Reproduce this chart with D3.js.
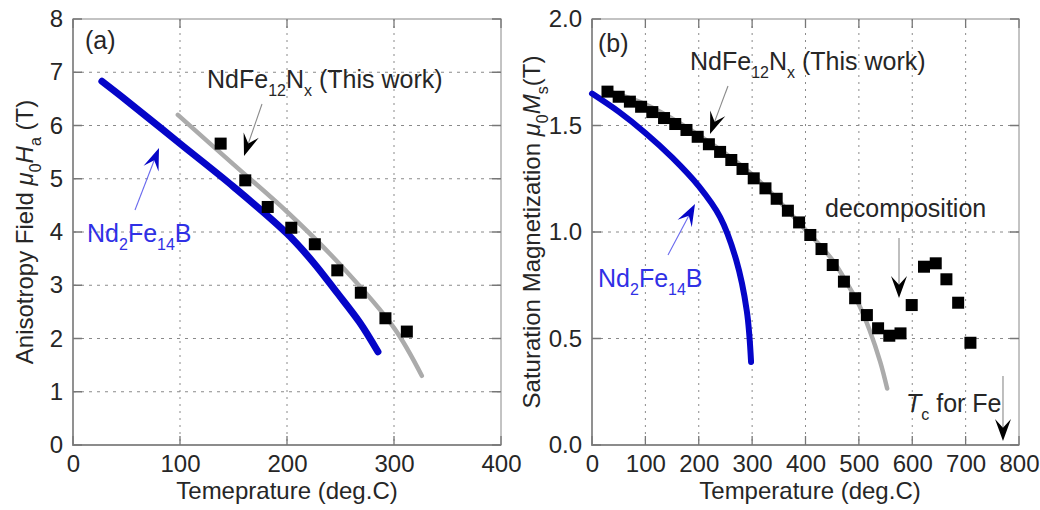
<!DOCTYPE html>
<html>
<head>
<meta charset="utf-8">
<script src="https://cdn.jsdelivr.net/npm/d3@7"></script>
<style>
  body { margin: 0; background: #fff; }
  svg { font-family: "Liberation Sans", Arial, sans-serif; }
</style>
</head>
<body>
<svg id="chart" width="1040" height="510"></svg>
<script>
// ---- data, panel (a): anisotropy field vs temperature
let ndfebA_T = [27, 50, 100, 150, 200, 225, 246, 268, 285]
let ndfebA_H = [6.83, 6.47, 5.66, 4.85, 3.97, 3.42, 2.88, 2.30, 1.75]
let fitA_T = [98, 150, 200, 250, 300, 326]
let fitA_H = [6.2, 5.27, 4.38, 3.38, 2.2, 1.3]
let measA_T = [138, 161, 182, 204, 226, 247, 269, 292, 312]
let measA_H = [5.66, 4.97, 4.47, 4.08, 3.77, 3.28, 2.86, 2.38, 2.13]

// ---- data, panel (b): saturation magnetization vs temperature
let ndfebB_T = [0, 50, 100, 150, 200, 240, 270, 290, 298]
let ndfebB_M = [1.65, 1.565, 1.465, 1.35, 1.215, 1.07, 0.87, 0.63, 0.39]
let fitB_T = [25, 100, 200, 300, 400, 450, 480, 500, 520, 540, 553]
let fitB_M = [1.665, 1.6, 1.455, 1.27, 1.01, 0.87, 0.75, 0.66, 0.54, 0.39, 0.265]
let measB_T = [29, 50, 71, 92, 113, 135, 156, 177, 198, 219, 240, 261, 282, 303, 325, 346, 367,
  388, 409, 430, 451, 472, 493, 515, 536, 557, 578, 599, 622, 644, 664, 686, 709]
let measB_M = [1.659, 1.635, 1.612, 1.588, 1.563, 1.535, 1.507, 1.479, 1.447, 1.412, 1.376, 1.338,
  1.296, 1.252, 1.205, 1.156, 1.100, 1.045, 0.986, 0.920, 0.845, 0.767, 0.689, 0.610, 0.548, 0.513,
  0.524, 0.657, 0.837, 0.853, 0.778, 0.668, 0.480]

// ---- ticks
let ticksA_x = [0, 100, 200, 300, 400]
let ticksA_y = [0, 1, 2, 3, 4, 5, 6, 7, 8]
let ticksB_x = [0, 100, 200, 300, 400, 500, 600, 700, 800]
let ticksB_y = [0, 0.5, 1.0, 1.5, 2.0]

// ---- look
let blue = "#0505c8"
let blueText = "#3030e6"
let fitGray = "#ababab"
let ink = "#262626"
let fs = 24     // ticks, axis titles
let fsNote = 25 // annotations inside the plots

let svg = d3.select("#chart")

let zip = (xs, ys) => xs.map((x, i) => [x, ys[i]])

// draws box, grid, ticks and labels for one panel
let drawFrame = (x, y, xt, yt, yfmt) => {
  let [l, r] = x.range()
  let [b, t] = y.range()
  let g = svg.append("g")

  // dotted grid
  g.selectAll(".vg").data(xt.slice(1, -1)).join("line")
    .attr("x1", d => x(d)).attr("x2", d => x(d)).attr("y1", t).attr("y2", b)
    .attr("stroke", "#8a8a8a").attr("stroke-width", 1).attr("stroke-dasharray", "2,5")
  g.selectAll(".hg").data(yt.slice(1, -1)).join("line")
    .attr("y1", d => y(d)).attr("y2", d => y(d)).attr("x1", l).attr("x2", r)
    .attr("stroke", "#8a8a8a").attr("stroke-width", 1).attr("stroke-dasharray", "3,5")

  // box
  g.append("rect").attr("x", l).attr("y", t).attr("width", r - l).attr("height", b - t)
    .attr("fill", "none").attr("stroke", "#b0b0b0").attr("stroke-width", 1.5)
  g.append("path").attr("d", `M${l},${t}V${b}H${r}`)
    .attr("fill", "none").attr("stroke", "#8c8c8c").attr("stroke-width", 1.8)

  // inward ticks on all four sides
  let tk = 9
  g.selectAll(".tx").data(xt).join("path")
    .attr("d", d => `M${x(d)},${b}v${-tk}M${x(d)},${t}v${tk}`)
    .attr("stroke", "#777").attr("stroke-width", 1.3)
  g.selectAll(".ty").data(yt).join("path")
    .attr("d", d => `M${l},${y(d)}h${tk}M${r},${y(d)}h${-tk}`)
    .attr("stroke", "#777").attr("stroke-width", 1.3)

  // tick labels through d3 axes
  let ax = g.append("g").attr("transform", `translate(0,${b})`)
    .call(d3.axisBottom(x).tickValues(xt).tickSize(0).tickPadding(10))
  let ay = g.append("g").attr("transform", `translate(${l},0)`)
    .call(d3.axisLeft(y).tickValues(yt).tickFormat(yfmt).tickSize(0).tickPadding(10))
  for (let a of [ax, ay]) {
    a.select(".domain").remove()
    a.selectAll("text").attr("font-size", fs).attr("fill", ink).attr("font-family", null)
  }
  return g
}

let curve = (g, x, y, xs, ys, color, w) => {
  let line = d3.line().x(d => x(d[0])).y(d => y(d[1])).curve(d3.curveCatmullRom.alpha(0.5))
  g.append("path").attr("d", line(zip(xs, ys)))
    .attr("fill", "none").attr("stroke", color).attr("stroke-width", w)
    .attr("stroke-linecap", "round").attr("stroke-linejoin", "round")
}

let squares = (g, x, y, xs, ys) => {
  let s = 12
  g.selectAll(".sq").data(zip(xs, ys)).join("rect")
    .attr("x", d => x(d[0]) - s / 2).attr("y", d => y(d[1]) - s / 2)
    .attr("width", s).attr("height", s).attr("fill", "#000")
}

// thin line with a notched, filled head at (x2,y2)
let arrow = (x1, y1, x2, y2, lineColor, headColor) => {
  let a = Math.atan2(y2 - y1, x2 - x1) * 180 / Math.PI
  let L = 22, W = 16
  let len = Math.hypot(x2 - x1, y2 - y1)
  let g = svg.append("g").attr("transform", `translate(${x1},${y1}) rotate(${a})`)
  g.append("line").attr("x1", 0).attr("y1", 0).attr("x2", len - L * 0.6).attr("y2", 0)
    .attr("stroke", lineColor).attr("stroke-width", 1.1)
  g.append("path")
    .attr("d", `M${len},0L${len - L},${-W / 2}L${len - L * 0.6},0L${len - L},${W / 2}Z`)
    .attr("fill", headColor)
}

// text with subscripts: parts = [[str, kind]] kind: "" | "sub" | "it"
let label = (parent, x, y, parts, color, rotate, size) => {
  let t = parent.append("text").attr("font-size", size || fs).attr("fill", color)
  if (rotate) t.attr("transform", `translate(${x},${y}) rotate(-90)`).attr("text-anchor", "middle")
  else t.attr("x", x).attr("y", y)
  let shift = 0
  for (let [s, kind] of parts) {
    let sp = t.append("tspan").text(s)
    let want = kind === "sub" ? 8 : 0
    if (want !== shift) { sp.attr("dy", want - shift); shift = want }
    if (kind === "sub") sp.attr("font-size", 16)
    if (kind === "it") sp.attr("font-style", "italic")
  }
  return t
}

// ===== panel (a)
let xA = d3.scaleLinear().domain([0, 400]).range([73, 501])
let yA = d3.scaleLinear().domain([0, 8]).range([445, 19])
let gA = drawFrame(xA, yA, ticksA_x, ticksA_y, d3.format("d"))
curve(gA, xA, yA, fitA_T, fitA_H, fitGray, 4.5)
curve(gA, xA, yA, ndfebA_T, ndfebA_H, blue, 7)
squares(gA, xA, yA, measA_T, measA_H)

label(svg, 85, 49, [["(a)", ""]], ink, false, fsNote)
label(svg, 207, 88, [["NdFe", ""], ["12", "sub"], ["N", ""], ["x", "sub"], [" (This work)", ""]], ink, false, fsNote)
label(svg, 87, 242, [["Nd", ""], ["2", "sub"], ["Fe", ""], ["14", "sub"], ["B", ""]], blueText, false, fsNote)
arrow(262, 104, 244, 156, "#8a8a8a", "#000")
arrow(135, 210, 159, 148, "#6a6aee", blue)
label(svg, 287, 499, [["Temeprature (deg.C)", ""]], ink).attr("text-anchor", "middle")
label(svg, 33, 232, [["Anisotropy Field ", ""], ["\u03bc", "it"], ["0", "sub"], ["H", "it"], ["a", "sub"], [" (T)", ""]], ink, true)

// ===== panel (b)
let xB = d3.scaleLinear().domain([0, 800]).range([592, 1019])
let yB = d3.scaleLinear().domain([0, 2]).range([445, 19])
let gB = drawFrame(xB, yB, ticksB_x, ticksB_y, d3.format(".1f"))
curve(gB, xB, yB, fitB_T, fitB_M, fitGray, 4.5)
curve(gB, xB, yB, ndfebB_T, ndfebB_M, blue, 6)
squares(gB, xB, yB, measB_T, measB_M)

label(svg, 598, 52, [["(b)", ""]], ink, false, fsNote)
label(svg, 690, 70, [["NdFe", ""], ["12", "sub"], ["N", ""], ["x", "sub"], [" (This work)", ""]], ink, false, fsNote)
label(svg, 598, 287, [["Nd", ""], ["2", "sub"], ["Fe", ""], ["14", "sub"], ["B", ""]], blueText, false, fsNote)
label(svg, 825, 217, [["decomposition", ""]], ink, false, fsNote)
label(svg, 906, 412, [["T", "it"], ["c", "sub"], [" for Fe", ""]], ink, false, fsNote)
arrow(728, 86, 710, 134, "#8a8a8a", "#000")
arrow(668, 255, 695, 204, "#6a6aee", blue)
arrow(899, 238, 899, 298, "#8a8a8a", "#000")
arrow(xB(770), 376, xB(770), 441, "#8a8a8a", "#000")
label(svg, 810, 499, [["Temperature (deg.C)", ""]], ink).attr("text-anchor", "middle")
label(svg, 540, 232, [["Saturation Magnetization ", ""], ["\u03bc", "it"], ["0", "sub"], ["M", "it"], ["s", "sub"], ["(T)", ""]], ink, true)
</script>
</body>
</html>
